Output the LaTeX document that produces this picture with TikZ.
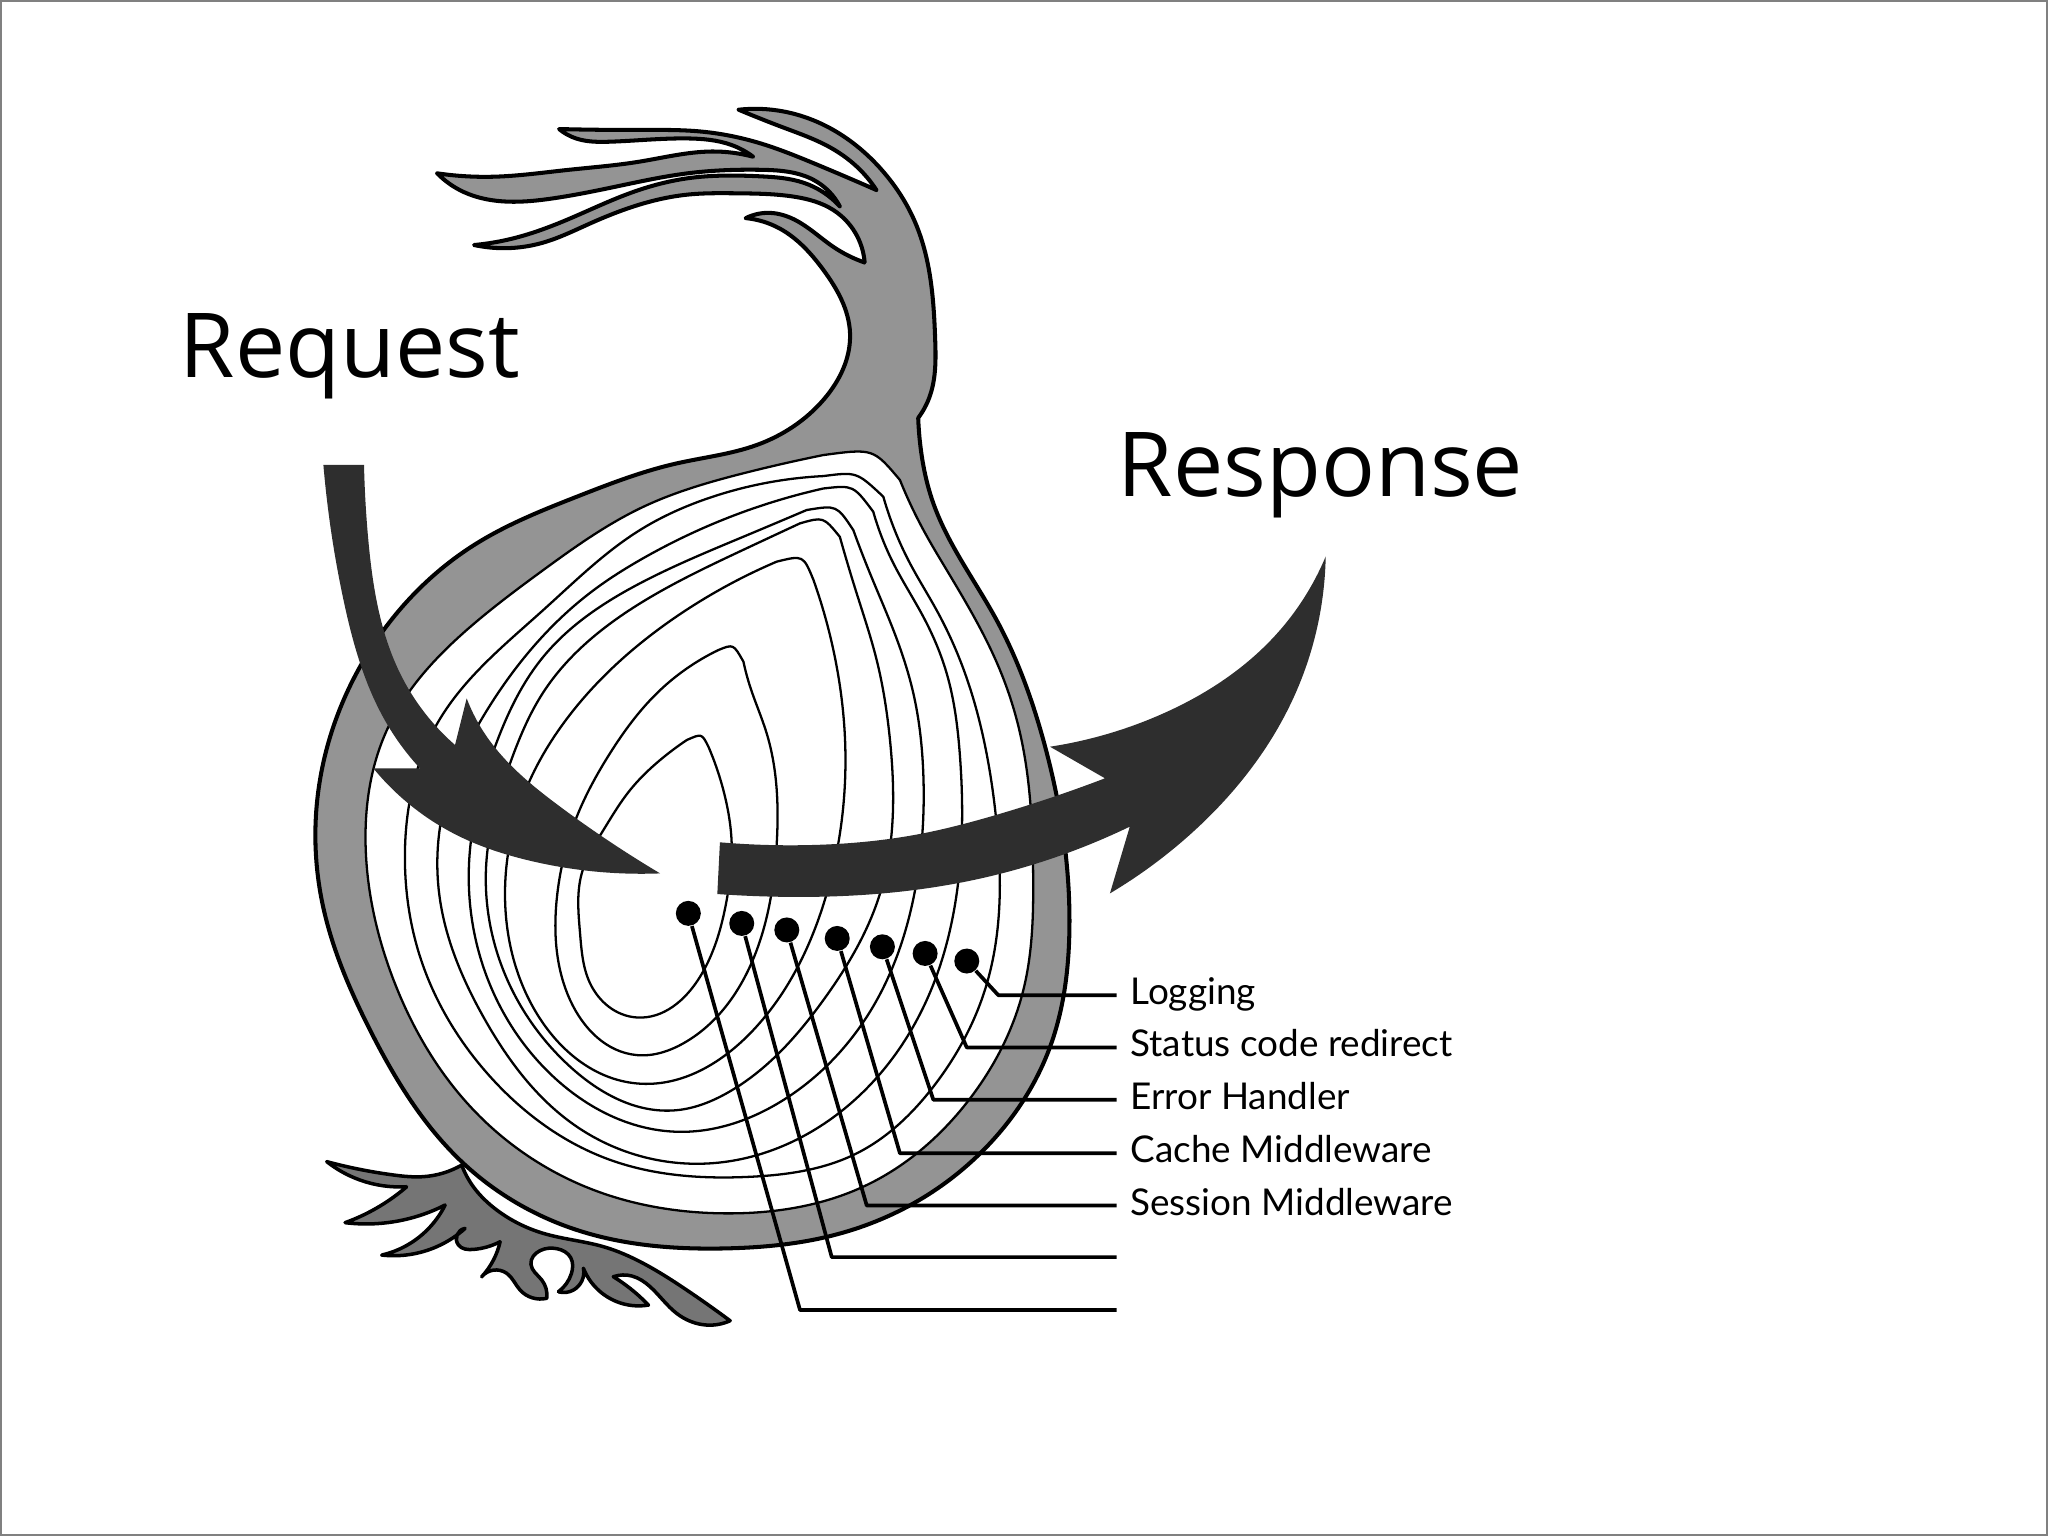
\documentclass[tikz,border=0pt]{standalone}
\usepackage{fontspec}
\usetikzlibrary{hobby}
\setmainfont{Lato}
\newfontfamily\titlefont{Open Sans}
\definecolor{skingray}{gray}{0.58}
\definecolor{rootgray}{gray}{0.46}
\definecolor{flowdark}{gray}{0.18}
\tikzstyle{skin} = [draw=black, line width=1.15pt, fill=skingray, line join=round]
\tikzstyle{root} = [draw=black, line width=1pt, fill=rootgray, line join=round]
\tikzstyle{ring} = [draw=black, line width=0.65pt]
\tikzstyle{flow} = [fill=flowdark]
\tikzstyle{dot} = [circle, fill=black, inner sep=0pt, minimum size=0.25cm]
\tikzstyle{leader} = [draw=black, line width=1.05pt, line join=round]
\tikzstyle{tag} = [anchor=west, inner xsep=0.13cm, inner ysep=0pt, text height=9pt, text depth=3.6pt, font=\fontsize{10.5}{12}\selectfont]
\tikzstyle{title} = [inner sep=0pt, text=black, font=\titlefont\fontsize{25.5}{28}\selectfont]

\begin{document}
\begin{tikzpicture}[x=0.013061cm, y=-0.013061cm, hobby]
\useasboundingbox (0,0) rectangle (1568,1176);
\draw [gray, line width=0.5pt] (1,1) rectangle (1567,1175);

% onion skin with stem
\draw [skin] plot coordinates {(565.5,84) (600.7,85.5) (638,99.5) (675,130) (701,171) (716,260) (712,303) (703,320)}
  -- plot coordinates {(703,320) (705,344) (714.6,385.4) (763,474.7) (798.8,566.6) (818.8,709.5) (804,801.4) (753,880.5) (699.3,921.4) (633,947) (556.4,955.8) (441.6,941.7) (354.8,890.7) (283.3,788.6) (246.3,689) (243.8,604.9) (275.7,510.4) (365,416) (441.6,380.3) (518.1,354.8) (579.4,340.7) (630.4,306.2) (650.8,255) (630.4,206.7) (597,175) (571,167)}
  -- plot coordinates {(571,167) (589.6,163) (608,168) (638,189) (662,201)}
  -- plot coordinates {(662,201) (638,160.8) (608,150.6) (563.6,148) (526.5,149) (452,171) (415,186) (363,187.6)}
  -- plot coordinates {(363,187.6) (393,182.5) (433.8,168.4) (482,148) (526.5,136.5) (582,135) (615.5,140) (643,158)}
  -- plot coordinates {(643,158) (623,137.8) (582,130) (526.5,132.7) (471,143) (422.6,152) (389,154.4) (355,147) (334.7,132.7)}
  -- plot coordinates {(334.7,132.7) (378,135.3) (433.8,130.2) (489.4,123.8) (545,116) (576.6,120)}
  -- plot coordinates {(576.6,120) (560,111) (526.5,106) (467,108.5) (441,106) (428,98.8)}
  -- plot coordinates {(428,98.8) (489.4,99.5) (537.6,100.8) (582,109.7) (623,125) (671,145.5)}
  -- plot coordinates {(671,145.5) (656,127.6) (634,112) (600.7,98) (565.5,84)} -- cycle;

% roots
\draw [root] plot coordinates {(353.5,892) (324,900.9) (301.2,899.6) (250.2,889.4)}
  -- plot coordinates {(250.2,889.4) (275.7,903.5) (311.4,908.6)}
  -- plot coordinates {(311.4,908.6) (283.3,927.7) (264.2,936.1)}
  -- plot coordinates {(264.2,936.1) (308.9,934) (340.8,922.6)}
  -- plot coordinates {(340.8,922.6) (314,952) (292.3,960.9)}
  -- plot coordinates {(292.3,960.9) (334.4,954.5) (356.1,940.5)}
  -- plot coordinates {(356.1,940.5) (351,953.2) (362.4,956.6) (382.9,950.7)}
  -- plot coordinates {(382.9,950.7) (377.8,964.7) (368.8,977.5)}
  -- plot coordinates {(368.8,977.5) (388,974.9) (398.2,987.7) (418.6,994)}
  -- plot coordinates {(418.6,994) (414.8,980) (406.5,968) (413.5,957.5) (426.3,956) (437,963) (437.5,975) (427.5,989)}
  -- plot coordinates {(427.5,989) (439,987.7) (446.7,971.1)}
  -- plot coordinates {(446.7,971.1) (472.2,996.6) (496.4,999.2)}
  -- plot coordinates {(496.4,999.2) (482.4,986.4) (469.6,977.5)}
  -- plot coordinates {(469.6,977.5) (484,977) (497.7,985.1) (518.1,1005.6) (541.1,1014.5) (559,1011.2)}
  -- plot coordinates {(559,1011.2) (525.8,987.7) (492.6,967.3) (462,954.5) (416,944.3) (380.3,926.4) (362.4,908.6) (353.5,892)} -- cycle;

% flesh and rings
\draw [ring, fill=white] plot coordinates {(689,367.5) (707,405.8) (724.8,436.4) (765.6,513) (781,561.5) (791,668.7) (783.5,758) (742.7,841) (663.6,907.3) (556.4,929) (454.3,911) (365,852.4) (301.2,750) (280,650) (297.4,556.4) (360,480) (416,436.4) (492.6,388) (569,362.4) (630.4,348.4)} .. controls (668.6,343.3) .. (689,367.5) -- cycle;
\draw [ring] plot coordinates {(676.3,380.3) (696.7,431.3) (717,467) (735,505.3) (750.3,553.8) (762.5,625.3) (755,755) (714.6,832) (656,883) (574,901) (467,888) (375,824) (321.6,732.5) (310,656) (335.6,552.5) (416,467) (490,405.8) (543.6,381) (630.4,364.5)} .. controls (655.9,361.2) .. (676.3,380.3) -- cycle;
\draw [ring] plot coordinates {(668.6,391.8) (684,431.3) (706.9,472.2) (724.8,515.5) (735,579.3) (733.8,674) (709.5,765.7) (648.3,847.4) (543.6,890.7) (441.6,862.6) (370,778.4) (336.9,689) (345,600) (367.6,552.5) (454.3,452) (490,428.8) (569,392) (630.4,374)} .. controls (653.3,371.4) .. (668.6,391.8) -- cycle;
\draw [ring] plot coordinates {(653.3,405.8) (666.1,439) (684,482.4) (699.3,530.9) (706.9,592.1) (700.6,681.5) (671.3,765.7) (599.8,842.2) (518,866.5) (423.7,824.4) (367.6,732.5) (359.4,656) (379,571.7) (416,502.8) (490,446.6) (569,411) (617.6,390.5)} .. controls (640.6,386.7) .. (653.3,405.8) -- cycle;
\draw [ring] plot coordinates {(643,411) (655.9,454.3) (671.2,505.3) (681.4,566.6) (673.8,684) (630.4,765.7) (556.4,837) (518,850) (436.5,816.7) (381.6,732.5) (372.7,656) (390.5,584.5) (416,530) (490,462) (569,421) (612.5,400.7)} .. controls (630.4,395.6) .. (643,411) -- cycle;
\draw [ring] plot coordinates {(622.8,444) (640.6,510.4) (647,566.6) (633,684) (576.8,788.6) (487.5,829.5) (410.9,775.9) (386.7,689) (404.6,599.8) (431.4,553.8) (518,472) (594.7,430)} .. controls (615,425) .. (622.8,444) -- cycle;
\draw [ring] plot coordinates {(569.2,506.6) (574.3,525.7) (587,561.5) (594.7,645.7) (579.4,727.4) (523.2,798.8) (487.5,807.8) (436.5,765.7) (426.2,689) (441.6,625.3) (467,576.8) (502.8,530.9) (550,497.7)} .. controls (561.5,493) .. (569.2,506.6) -- cycle;
\draw [ring] plot coordinates {(542.4,571.7) (555.1,610) (560.2,645.7) (556.4,689) (536,747.8) (487.5,779) (451.8,752.9) (444.1,714.6) (445.4,668.7) (462,635.5) (482.4,604.9) (505.4,581.9) (525.8,566.6)} .. controls (537.3,561.5) .. (542.4,571.7) -- cycle;

% request and response arrows
\fill [flow] plot coordinates {(247.6,356) (263,459.4) (296,553.8) (321.6,588.3)}
  -- (285.9,588.3)
  -- plot coordinates {(285.9,588.3) (352.2,640.6) (403.3,658.4) (505.4,668.7)}
  -- plot coordinates {(505.4,668.7) (428.8,617.6) (372.7,564) (357.3,534.7)}
  -- (348.4,570.4)
  -- plot coordinates {(348.4,570.4) (306.3,515.5) (282,413.5) (278.7,356)} -- cycle;
\fill [flow] plot coordinates {(551.2,644.9) (620,647) (706.9,638) (758,625.3) (846,595.9)}
  -- (803.9,571.7)
  -- plot coordinates {(803.9,571.7) (888,547.4) (975,488) (1015,426)}
  -- plot coordinates {(1015,426) (990,535) (910,640) (849.8,684)}
  -- (865,632.9)
  -- plot coordinates {(865,632.9) (745.2,673.8) (592,686.5) (549.2,684.5)} -- cycle;

\node (request) [title] at (268,273) {Request};
\node (response) [title] at (1011,364) {Response};

% dots, labels and leaders
\node (dot1) [dot] at (527,699.3) {};
\node (dot2) [dot] at (567.9,707) {};
\node (dot3) [dot] at (602.4,712) {};
\node (dot4) [dot] at (641,718.5) {};
\node (dot5) [dot] at (675.6,724.9) {};
\node (dot6) [dot] at (708.3,730) {};
\node (dot7) [dot] at (740.2,735.8) {};

\node (logging) [tag] at (855,762) {Logging};
\node (status) [tag] at (855,802) {Status code redirect};
\node (error) [tag] at (855,842) {Error Handler};
\node (cache) [tag] at (855,883) {Cache Middleware};
\node (session) [tag] at (855,923) {Session Middleware};
\coordinate (end2) at (855,962.5);
\coordinate (end1) at (855,1003);

\draw [leader] (dot7) -- (764.4,762) -- (logging.west);
\draw [leader] (dot6) -- (740.2,802) -- (status.west);
\draw [leader] (dot5) -- (714.6,842) -- (error.west);
\draw [leader] (dot4) -- (689,883) -- (cache.west);
\draw [leader] (dot3) -- (663.6,923) -- (session.west);
\draw [leader] (dot2) -- (636.8,962.5) -- (end2);
\draw [leader] (dot1) -- (612.5,1003) -- (end1);

\end{tikzpicture}
\end{document}
